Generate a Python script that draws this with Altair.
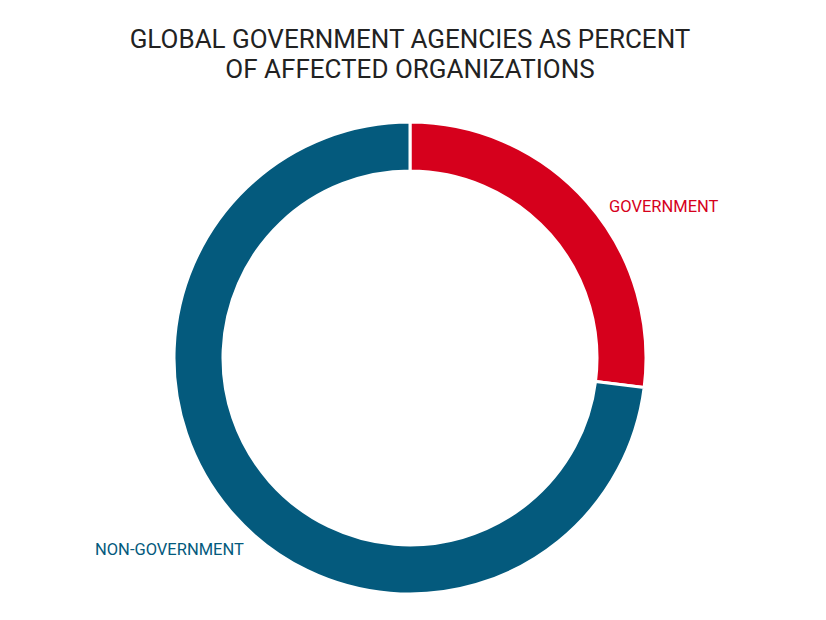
import altair as alt
import pandas as pd

categories = ["GOVERNMENT", "NON-GOVERNMENT"]
shares = [27, 73]
colors = ["#D6001C", "#045A7D"]
title_lines = ["GLOBAL GOVERNMENT AGENCIES AS PERCENT", "OF AFFECTED ORGANIZATIONS"]

df = pd.DataFrame({"category": categories, "share": shares, "order": [0, 1]})

CX, CY = 402, 350

donut = alt.Chart(df).mark_arc(
    outerRadius=236, innerRadius=187, stroke="white", strokeWidth=3
).encode(
    theta=alt.Theta("share:Q", stack=True),
    order=alt.Order("order:Q"),
    color=alt.Color("category:N", scale=alt.Scale(domain=categories, range=colors), legend=None),
    x=alt.value(CX),
    y=alt.value(CY),
)

lab_gov = alt.Chart(pd.DataFrame({"t": [categories[0]]})).mark_text(
    font="Roboto", fontSize=16.5, align="left", baseline="alphabetic", color=colors[0]
).encode(text="t:N", x=alt.value(601), y=alt.value(204))

lab_non = alt.Chart(pd.DataFrame({"t": [categories[1]]})).mark_text(
    font="Roboto", fontSize=16.5, align="left", baseline="alphabetic", color=colors[1]
).encode(text="t:N", x=alt.value(87), y=alt.value(547))

t1 = alt.Chart(pd.DataFrame({"t": [title_lines[0]]})).mark_text(
    font="Roboto", fontSize=26, align="center", baseline="alphabetic", color="#222222"
).encode(text="t:N", x=alt.value(CX), y=alt.value(40))

t2 = alt.Chart(pd.DataFrame({"t": [title_lines[1]]})).mark_text(
    font="Roboto", fontSize=26, align="center", baseline="alphabetic", color="#222222"
).encode(text="t:N", x=alt.value(CX), y=alt.value(70))

chart = alt.layer(donut, lab_gov, lab_non, t1, t2).properties(
    width=810, height=604, autosize=alt.AutoSizeParams(type="none"), padding=0
).configure_view(stroke=None)

chart.save("out.html", embed_options={"renderer": "svg", "actions": False})
